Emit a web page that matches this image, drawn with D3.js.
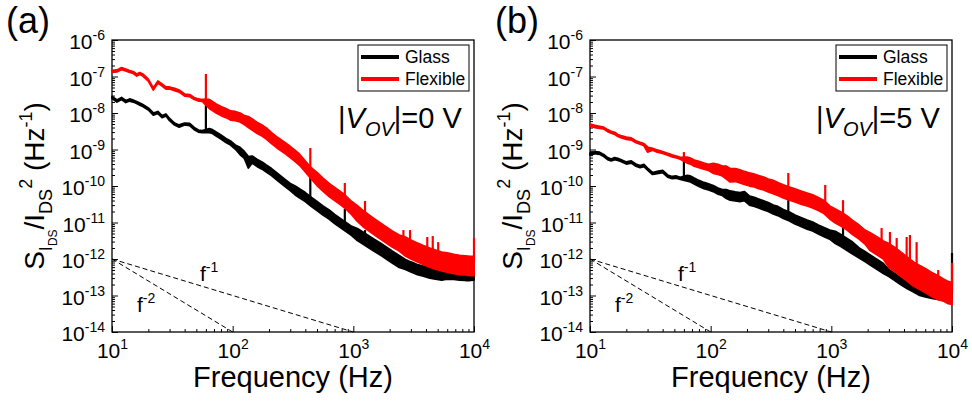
<!DOCTYPE html>
<html>
<head>
<meta charset="utf-8">
<script src="https://cdnjs.cloudflare.com/ajax/libs/d3/7.8.5/d3.min.js"></script>
<style>
  body { margin: 0; background: #fff; }
  svg { font-family: "Liberation Sans", Arial, sans-serif; }
</style>
</head>
<body>
<svg id="viz" width="972" height="402"></svg>
<script>

// ---------------------------//
//       DATA                 //
// ---------------------------//

// frequency grid (Hz), shared by all curves
var freq = [10, 11, 12, 13, 14, 15, 16, 17, 18, 20, 22, 24, 26, 28, 30, 33, 36, 40, 44, 48,
  52, 56, 64, 68, 73, 80, 88, 96, 105, 115, 125, 135, 145, 160, 175, 190, 210, 230, 250, 275,
  300, 330, 360, 400, 450, 500, 560, 630, 700, 780, 870, 970, 1080, 1200, 1350, 1500, 1700, 1900, 2100, 2400,
  2700, 3000, 3400, 3800, 4300, 4800, 5400, 6000, 6800, 7600, 8500, 9300, 10000]

// (a) |Vov| = 0 V : upper / lower edge of the noisy trace
var glassA_hi = [2.83e-8, 2.27e-8, 2.66e-8, 2.2e-8, 2.42e-8, 2.27e-8, 2.07e-8, 1.88e-8, 1.71e-8, 1.37e-8,
  1.0e-8, 1.1e-8, 8.5e-9, 9.4e-9, 7.05e-9, 5.3e-9, 4.7e-9, 5.3e-9, 5.2e-9, 4.0e-9,
  3.4e-9, 3.3e-9, 3.75e-9, 3.5e-9, 3.0e-9, 2.5e-9, 2.0e-9, 1.71e-9, 1.33e-9, 1.14e-9,
  8.8e-10, 6.4e-10, 6.6e-10, 5.3e-10, 4.55e-10, 3.75e-10, 3.0e-10, 2.34e-10, 1.88e-10, 1.46e-10,
  1.17e-10, 1.0e-10, 8.3e-11, 6.6e-11, 4.85e-11, 3.75e-11, 2.83e-11, 2.2e-11, 1.65e-11, 1.29e-11,
  1.0e-11, 7.8e-12, 6.85e-12, 5.5e-12, 4.25e-12, 3.4e-12, 2.66e-12, 2.07e-12, 1.65e-12, 1.25e-12,
  9.7e-13, 8.3e-13, 7.05e-13, 6.4e-13, 5.7e-13, 5.3e-13, 5.0e-13, 4.4e-13, 4.25e-13, 4.1e-13,
  4.0e-13, 4.0e-13, 4.1e-13]
var glassA_lo = [2.5e-8, 2.0e-8, 2.34e-8, 1.94e-8, 2.13e-8, 2.0e-8, 1.82e-8, 1.65e-8, 1.51e-8, 1.21e-8,
  8.8e-9, 9.7e-9, 7.5e-9, 8.3e-9, 6.2e-9, 4.7e-9, 4.1e-9, 4.7e-9, 4.5e-9, 3.5e-9,
  3.0e-9, 2.9e-9, 2.9e-9, 2.75e-9, 2.35e-9, 1.94e-9, 1.55e-9, 1.33e-9, 1.03e-9, 7.3e-10,
  5.7e-10, 3.1e-10, 4.25e-10, 3.4e-10, 2.9e-10, 2.42e-10, 1.94e-10, 1.51e-10, 1.21e-10, 9.4e-11,
  7.5e-11, 5.7e-11, 4.7e-11, 3.75e-11, 2.75e-11, 2.13e-11, 1.6e-11, 1.25e-11, 9.4e-12, 7.3e-12,
  5.7e-12, 4.4e-12, 3.2e-12, 2.58e-12, 2.0e-12, 1.6e-12, 1.25e-12, 9.7e-13, 7.8e-13, 5.85e-13,
  5.15e-13, 4.4e-13, 3.75e-13, 3.4e-13, 3.0e-13, 2.83e-13, 2.66e-13, 2.83e-13, 2.75e-13, 2.66e-13,
  2.58e-13, 2.58e-13, 2.66e-13]
var flexA_hi = [1.46e-7, 1.51e-7, 1.76e-7, 1.6e-7, 1.46e-7, 1.37e-7, 1.17e-7, 1.29e-7, 1.17e-7, 8.5e-8,
  4.85e-8, 7.5e-8, 6.2e-8, 5.15e-8, 5.15e-8, 4.7e-8, 4.25e-8, 3.3e-8, 3.2e-8, 2.66e-8,
  2.42e-8, 2.34e-8, 2.34e-8, 2.07e-8, 1.76e-8, 1.51e-8, 1.33e-8, 1.14e-8, 1.1e-8, 1.0e-8,
  8.5e-9, 8.0e-9, 6.85e-9, 5.5e-9, 4.7e-9, 3.9e-9, 2.9e-9, 2.27e-9, 1.88e-9, 1.51e-9,
  1.21e-9, 9.4e-10, 7.3e-10, 4.85e-10, 3.1e-10, 2.34e-10, 1.65e-10, 1.17e-10, 9.1e-11, 7.05e-11,
  5.3e-11, 3.75e-11, 2.9e-11, 2.13e-11, 1.6e-11, 1.25e-11, 9.4e-12, 7.3e-12, 5.85e-12, 4.55e-12,
  4.0e-12, 3.3e-12, 2.75e-12, 2.34e-12, 2.0e-12, 1.76e-12, 1.55e-12, 1.46e-12, 1.33e-12, 1.25e-12,
  1.21e-12, 1.17e-12, 1.17e-12]
var flexA_lo = [1.29e-7, 1.33e-7, 1.55e-7, 1.42e-7, 1.29e-7, 1.21e-7, 1.03e-7, 1.14e-7, 1.03e-7, 7.5e-8,
  4.25e-8, 6.6e-8, 5.5e-8, 4.55e-8, 4.55e-8, 4.1e-8, 3.75e-8, 2.9e-8, 2.83e-8, 2.34e-8,
  2.13e-8, 2.07e-8, 1.33e-8, 1.17e-8, 1.0e-8, 8.5e-9, 7.5e-9, 6.4e-9, 6.2e-9, 5.7e-9,
  4.85e-9, 4.0e-9, 3.4e-9, 2.75e-9, 2.34e-9, 1.94e-9, 1.46e-9, 1.14e-9, 9.4e-10, 7.5e-10,
  6.0e-10, 4.7e-10, 3.65e-10, 2.42e-10, 1.55e-10, 1.03e-10, 7.3e-11, 5.15e-11, 4.0e-11, 3.1e-11,
  2.34e-11, 1.65e-11, 1.07e-11, 7.8e-12, 5.85e-12, 4.55e-12, 3.4e-12, 2.66e-12, 2.13e-12, 1.65e-12,
  1.21e-12, 1.0e-12, 8.3e-13, 7.05e-13, 6.0e-13, 5.3e-13, 4.7e-13, 4.4e-13, 4.0e-13, 3.75e-13,
  3.65e-13, 3.5e-13, 3.5e-13]

// (b) |Vov| = 5 V
var glassB_hi = [8.0e-10, 8.7e-10, 8.4e-10, 7.3e-10, 6.0e-10, 5.5e-10, 6.0e-10, 5.7e-10, 5.3e-10, 4.55e-10,
  4.85e-10, 4.0e-10, 3.6e-10, 3.9e-10, 3.1e-10, 2.34e-10, 2.5e-10, 2.66e-10, 2.0e-10, 1.82e-10,
  1.88e-10, 1.73e-10, 1.96e-10, 1.88e-10, 1.65e-10, 1.42e-10, 1.25e-10, 1.14e-10, 1.03e-10, 8.8e-11,
  8.0e-11, 8.0e-11, 7.3e-11, 6.85e-11, 6.6e-11, 7.05e-11, 5.3e-11, 4.85e-11, 4.4e-11, 3.9e-11,
  3.5e-11, 3.0e-11, 2.75e-11, 2.27e-11, 1.94e-11, 1.6e-11, 1.37e-11, 1.17e-11, 1.03e-11, 8.5e-12,
  7.3e-12, 6.2e-12, 5.7e-12, 4.7e-12, 3.65e-12, 2.9e-12, 2.0e-12, 1.6e-12, 1.29e-12, 9.7e-13,
  7.5e-13, 5.15e-13, 3.9e-13, 3.0e-13, 2.34e-13, 1.94e-13, 1.55e-13, 1.33e-13, 1.21e-13, 1.14e-13,
  1.1e-13, 1.1e-13, 1.17e-13]
var glassB_lo = [7.05e-10, 7.7e-10, 7.4e-10, 6.4e-10, 5.3e-10, 4.85e-10, 5.3e-10, 5.0e-10, 4.7e-10, 4.0e-10,
  4.25e-10, 3.5e-10, 3.2e-10, 3.4e-10, 2.75e-10, 2.07e-10, 2.2e-10, 2.34e-10, 1.76e-10, 1.6e-10,
  1.65e-10, 1.52e-10, 1.35e-10, 1.29e-10, 1.14e-10, 9.7e-11, 8.5e-11, 7.8e-11, 7.05e-11, 6.0e-11,
  5.5e-11, 4.55e-11, 4.1e-11, 3.9e-11, 3.75e-11, 4.0e-11, 3.0e-11, 2.75e-11, 2.5e-11, 2.2e-11,
  2.0e-11, 1.71e-11, 1.55e-11, 1.29e-11, 1.1e-11, 9.1e-12, 7.8e-12, 6.6e-12, 5.85e-12, 4.85e-12,
  4.1e-12, 3.5e-12, 2.66e-12, 2.2e-12, 1.71e-12, 1.37e-12, 1.07e-12, 8.5e-13, 6.85e-13, 5.15e-13,
  4.0e-13, 3.3e-13, 2.5e-13, 1.94e-13, 1.51e-13, 1.25e-13, 1.0e-13, 9.1e-14, 8.3e-14, 7.8e-14,
  7.5e-14, 7.5e-14, 8.0e-14]
var flexB_hi = [5.0e-9, 4.55e-9, 4.3e-9, 4.1e-9, 3.5e-9, 3.15e-9, 2.96e-9, 2.58e-9, 2.4e-9, 2.17e-9,
  2.07e-9, 1.74e-9, 1.57e-9, 1.44e-9, 1.17e-9, 1.08e-9, 9.7e-10, 8.8e-10, 7.9e-10, 7.15e-10,
  6.6e-10, 6.1e-10, 6.2e-10, 5.85e-10, 5.15e-10, 4.7e-10, 4.25e-10, 3.9e-10, 4.15e-10, 3.9e-10,
  3.5e-10, 3.5e-10, 3.0e-10, 3.0e-10, 2.75e-10, 2.5e-10, 2.27e-10, 2.13e-10, 1.94e-10, 1.76e-10,
  1.55e-10, 1.42e-10, 1.25e-10, 1.07e-10, 9.4e-11, 8.3e-11, 7.3e-11, 6.4e-11, 5.7e-11, 4.85e-11,
  4.0e-11, 2.83e-11, 2.34e-11, 1.94e-11, 1.51e-11, 1.14e-11, 8.5e-12, 6.2e-12, 5.2e-12, 4.0e-12,
  3.1e-12, 2.66e-12, 2.0e-12, 1.51e-12, 1.1e-12, 8.3e-13, 6.6e-13, 5.5e-13, 4.25e-13, 3.5e-13,
  2.83e-13, 2.42e-13, 2.27e-13]
var flexB_lo = [4.4e-9, 4.0e-9, 3.8e-9, 3.65e-9, 3.1e-9, 2.8e-9, 2.6e-9, 2.27e-9, 2.1e-9, 1.9e-9,
  1.82e-9, 1.53e-9, 1.39e-9, 1.27e-9, 8.5e-10, 9.6e-10, 8.5e-10, 7.8e-10, 7.0e-10, 6.3e-10,
  5.85e-10, 5.4e-10, 4.25e-10, 4.0e-10, 3.5e-10, 3.2e-10, 2.9e-10, 2.66e-10, 2.23e-10, 2.07e-10,
  1.88e-10, 1.55e-10, 1.29e-10, 1.33e-10, 1.21e-10, 1.1e-10, 1.0e-10, 9.4e-11, 8.5e-11, 7.8e-11,
  6.85e-11, 6.2e-11, 5.5e-11, 4.7e-11, 4.1e-11, 3.65e-11, 3.2e-11, 2.83e-11, 2.5e-11, 2.13e-11,
  1.76e-11, 1.25e-11, 9.7e-12, 8.0e-12, 6.2e-12, 4.7e-12, 3.5e-12, 2.58e-12, 1.7e-12, 1.29e-12,
  1.0e-12, 5.85e-13, 4.4e-13, 3.3e-13, 2.42e-13, 1.82e-13, 1.46e-13, 1.21e-13, 9.4e-14, 7.8e-14,
  7.05e-14, 6.0e-14, 5.7e-14]

// narrow interference peaks: [frequency, base, top]
var glassA_peaks = [[60, 3.2e-9, 2.58e-8], [440, 4.1e-11, 1.88e-10], [850, 7.5e-12, 2.34e-11], [1250, 3.3e-12, 6.2e-12]]
var flexA_peaks = [[60, 2.27e-8, 1.17e-7], [440, 2.42e-10, 1.1e-9], [850, 3.4e-11, 1.21e-10], [1250, 1.51e-11, 3.9e-11],
  [2600, 2.5e-12, 6.2e-12], [2950, 2.0e-12, 6.2e-12], [4100, 1.29e-12, 4.0e-12], [4550, 1.14e-12, 4.25e-12],
  [5050, 1.0e-12, 2.9e-12], [10000, 8.3e-13, 3.75e-12]]
var glassB_peaks = [[60, 1.65e-10, 5.15e-10], [440, 1.51e-11, 4.1e-11], [1250, 2.9e-12, 7.5e-12], [10000, 1.1e-13, 1.46e-12]]
var flexB_peaks = [[60, 5.5e-10, 8.5e-10], [440, 6.4e-11, 2.27e-10], [890, 2.5e-11, 1.07e-10], [1250, 1.17e-11, 4.1e-11],
  [2610, 2.27e-12, 7.05e-12], [3060, 1.76e-12, 5.5e-12], [3480, 1.37e-12, 3.75e-12], [4210, 8.3e-13, 4.0e-12],
  [4480, 7.3e-13, 4.55e-12], [5090, 5.7e-13, 2.9e-12], [7690, 2.66e-13, 5.0e-13], [10000, 1.94e-13, 7.8e-13]]

// guide slopes f^-1 and f^-2
var slope1 = [[10, 1e-12], [1000, 1e-14]]
var slope2 = [[10, 1e-12], [100, 1e-14]]

var xTicks = [10, 100, 1000, 10000]
var yTicks = [1e-14, 1e-13, 1e-12, 1e-11, 1e-10, 1e-9, 1e-8, 1e-7, 1e-6]
var minorSteps = [2, 3, 4, 5, 6, 7, 8, 9]
var seriesNames = ["Glass", "Flexible"]
var seriesColors = ["#000000", "#ff0000"]
var panelLabels = ["(a)", "(b)"]
var biasLabels = ["0", "5"]

// ---------------------------//
//       LAYOUT               //
// ---------------------------//
var width = 362, height = 292
var panelX = [112, 590], panelY = 40
var tagX = [6, 495]

var svg = d3.select("#viz")

var x = d3.scaleLog().domain([10, 10000]).range([0, width])
var y = d3.scaleLog().domain([1e-14, 1e-6]).range([height, 0])

var minorX = [], minorY = []
xTicks.slice(0, -1).forEach(function(t){ minorSteps.forEach(function(m){ minorX.push(t*m) }) })
yTicks.slice(0, -1).forEach(function(t){ minorSteps.forEach(function(m){ minorY.push(t*m) }) })

function toRows(hi, lo){
  return freq.map(function(f, i){ return {f: f, hi: hi[i], lo: lo[i]} })
}

var panels = [
  {glass: toRows(glassA_hi, glassA_lo), flex: toRows(flexA_hi, flexA_lo), gp: glassA_peaks, fp: flexA_peaks},
  {glass: toRows(glassB_hi, glassB_lo), flex: toRows(flexB_hi, flexB_lo), gp: glassB_peaks, fp: flexB_peaks}
]

var band = d3.area()
  .x(function(d){ return x(d.f) })
  .y0(function(d){ return y(d.lo) })
  .y1(function(d){ return y(d.hi) })

var guide = d3.line()
  .x(function(d){ return x(d[0]) })
  .y(function(d){ return y(d[1]) })

// "10" with the exponent raised
function powLabel(sel, supDy){
  sel.each(function(d){
    var t = d3.select(this)
    var e = Math.round(Math.log10(d))
    t.text(null)
    t.append("tspan").text("10")
    t.append("tspan").attr("dy", supDy).style("font-size", "14px").text(e)
  })
}

panels.forEach(function(p, k){
  var g = svg.append("g").attr("transform", "translate(" + panelX[k] + "," + panelY + ")")

  // ---------------------------//
  //       AXES                 //
  // ---------------------------//
  var xa = g.append("g").attr("transform", "translate(0," + height + ")")
    .call(d3.axisBottom(x).tickValues(xTicks).tickSizeInner(-6).tickSizeOuter(0).tickPadding(11))
  xa.selectAll(".tick text").style("font-size", "21px").call(powLabel, -9)
  g.append("g").attr("transform", "translate(0," + height + ")")
    .call(d3.axisBottom(x).tickValues(minorX).tickSizeInner(-3).tickSizeOuter(0).tickFormat(""))
    .selectAll("text").remove()

  var ya = g.append("g")
    .call(d3.axisLeft(y).tickValues(yTicks).tickSizeInner(-6).tickSizeOuter(0).tickPadding(7))
  ya.selectAll(".tick text").style("font-size", "21px").attr("dy", "0.42em").call(powLabel, -9)
  g.append("g")
    .call(d3.axisLeft(y).tickValues(minorY).tickSizeInner(-3).tickSizeOuter(0).tickFormat(""))
    .selectAll("text").remove()

  g.selectAll(".domain").remove()
  g.selectAll(".tick line").attr("stroke", "#000").attr("stroke-width", 1)
  g.selectAll(".tick text").attr("fill", "#000")
  g.selectAll("g").attr("font-family", null).attr("font-size", null)

  g.append("rect")
    .attr("width", width).attr("height", height)
    .attr("fill", "none").attr("stroke", "#000").attr("stroke-width", 1.3)

  // guide slopes
  g.selectAll(".guide").data([slope1, slope2]).enter()
    .append("path")
      .attr("class", "guide")
      .attr("d", guide)
      .attr("fill", "none").attr("stroke", "#000").attr("stroke-width", 1)
      .attr("stroke-dasharray", "5,3")

  g.append("text").attr("x", 88).attr("y", 241).style("font-size", "21px")
    .call(function(t){ t.append("tspan").text("f"); t.append("tspan").attr("dy", -9).style("font-size", "14px").text("-1") })
  g.append("text").attr("x", 25).attr("y", 272).style("font-size", "21px")
    .call(function(t){ t.append("tspan").text("f"); t.append("tspan").attr("dy", -9).style("font-size", "14px").text("-2") })

  // ---------------------------//
  //       NOISE TRACES         //
  // ---------------------------//
  ;[[p.glass, p.gp], [p.flex, p.fp]].forEach(function(s, j){
    g.append("path")
      .datum(s[0])
      .attr("d", band)
      .attr("fill", seriesColors[j])
      .attr("stroke", seriesColors[j])
      .attr("stroke-width", 1.8)
      .attr("stroke-linejoin", "round")
    g.selectAll(".peak" + j).data(s[1]).enter()
      .append("line")
        .attr("class", "peak" + j)
        .attr("x1", function(d){ return x(d[0]) })
        .attr("x2", function(d){ return x(d[0]) })
        .attr("y1", function(d){ return y(d[1]) })
        .attr("y2", function(d){ return y(d[2]) })
        .attr("stroke", seriesColors[j])
        .attr("stroke-width", 2.2)
  })

  // ---------------------------//
  //       LEGEND               //
  // ---------------------------//
  var leg = g.append("g").attr("transform", "translate(246,5)")
  leg.append("rect").attr("width", 111).attr("height", 46)
    .attr("fill", "#fff").attr("stroke", "#000").attr("stroke-width", 1)
  seriesNames.forEach(function(n, i){
    leg.append("line").attr("x1", 3).attr("x2", 41)
      .attr("y1", 12 + i*22).attr("y2", 12 + i*22)
      .attr("stroke", seriesColors[i]).attr("stroke-width", 4)
    leg.append("text").attr("x", 47).attr("y", 18 + i*22)
      .style("font-size", "17.5px").text(n)
  })

  // bias annotation
  var ann = g.append("text").attr("x", 226).attr("y", 88).style("font-size", "29px")
  ann.append("tspan").text("|")
  ann.append("tspan").style("font-style", "italic").text("V")
  ann.append("tspan").style("font-style", "italic").style("font-size", "20px").attr("dy", 8).text("OV")
  ann.append("tspan").attr("dy", -8).text("|=" + biasLabels[k] + " V")

  // axis titles
  g.append("text")
    .attr("x", width/2).attr("y", 347)
    .attr("text-anchor", "middle").style("font-size", "29px")
    .text("Frequency (Hz)")

  var yt = g.append("text")
    .attr("transform", "translate(-68," + (height/2) + ") rotate(-90)")
    .attr("text-anchor", "middle").style("font-size", "28px")
  yt.append("tspan").text("S")
  yt.append("tspan").style("font-size", "18px").attr("dy", 8).text("I")
  yt.append("tspan").style("font-size", "12px").attr("dy", 5).text("DS")
  yt.append("tspan").attr("dy", -13).text("/I")
  yt.append("tspan").style("font-size", "18px").attr("dy", 8).text("DS")
  yt.append("tspan").style("font-size", "18px").attr("dy", -20).text("2")
  yt.append("tspan").attr("dy", 12).text(" (Hz")
  yt.append("tspan").style("font-size", "18px").attr("dy", -12).text("-1")
  yt.append("tspan").attr("dy", 12).text(")")

  // panel tag
  svg.append("text")
    .attr("x", tagX[k]).attr("y", 33)
    .style("font-size", "36px")
    .text(panelLabels[k])
})
</script>
</body>
</html>
